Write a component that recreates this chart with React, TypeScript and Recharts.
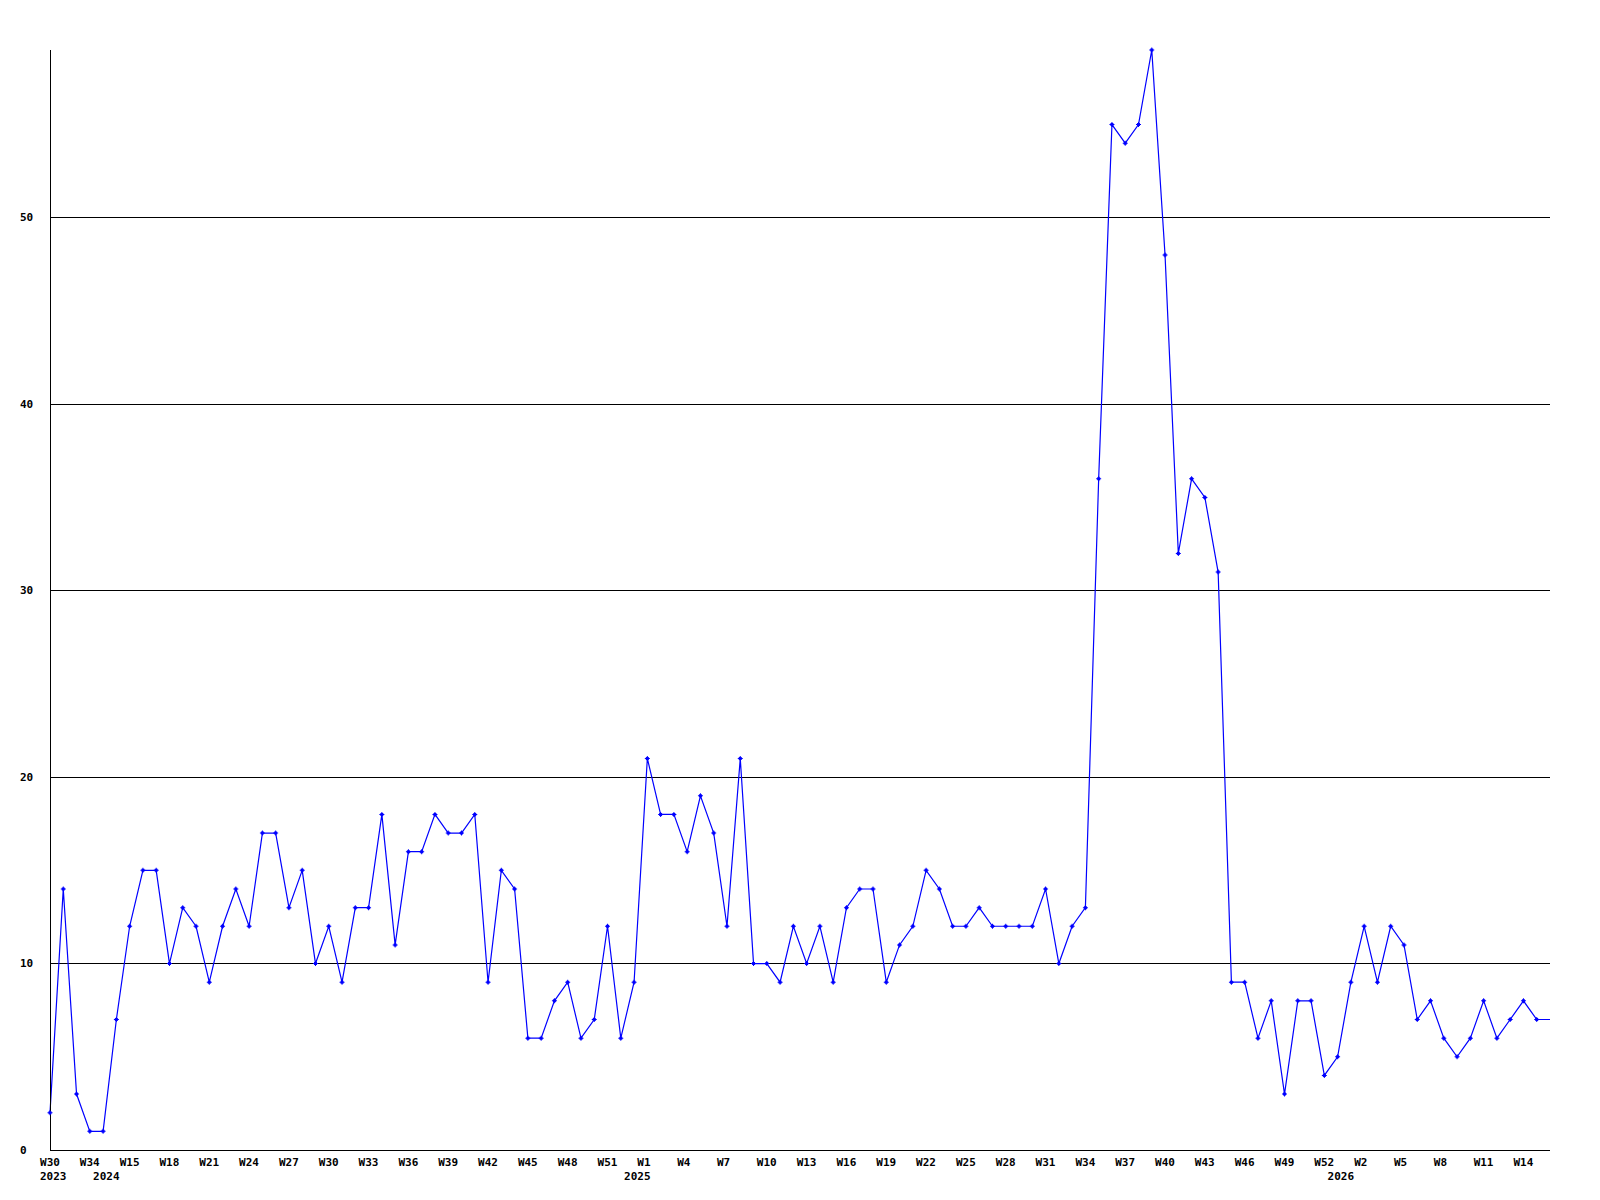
import { LineChart, Line, XAxis, YAxis, ReferenceLine } from 'recharts'

// weeks with data, per year (gaps in 2023/2024)
const weeks2023 = [30, 31, 33, 34]
const weeks2024 = [
  13, 14, 15, 16, 17, 18, 19, 20, 21, 22, 23, 24, 25, 26, 27, 28, 29, 30, 31, 32,
  33, 34, 35, 36, 37, 38, 39, 40, 41, 42, 43, 44, 45, 46, 47, 48, 49, 50, 51, 52,
]
const weeks2025 = [
  0, 1, 2, 3, 4, 5, 6, 7, 8, 9, 10, 11, 12, 13, 14, 15, 16, 17, 18, 19, 20, 21, 22, 23, 24, 25, 26,
  27, 28, 29, 30, 31, 32, 33, 34, 35, 36, 37, 38, 39, 40, 41, 42, 43, 44, 45, 46, 47, 48, 49, 50, 51, 52,
]
const weeks2026 = [0, 1, 2, 3, 4, 5, 6, 7, 8, 9, 10, 11, 12, 13, 14, 15, 16]

const counts = [
  2, 14, 3, 1, 1, 7, 12, 15, 15, 10,
  13, 12, 9, 12, 14, 12, 17, 17, 13, 15,
  10, 12, 9, 13, 13, 18, 11, 16, 16, 18,
  17, 17, 18, 9, 15, 14, 6, 6, 8, 9,
  6, 7, 12, 6, 9, 21, 18, 18, 16, 19,
  17, 12, 21, 10, 10, 9, 12, 10, 12, 9,
  13, 14, 14, 9, 11, 12, 15, 14, 12, 12,
  13, 12, 12, 12, 12, 14, 10, 12, 13, 36,
  55, 54, 55, 59, 48, 32, 36, 35, 31, 9,
  9, 6, 8, 3, 8, 8, 4, 5, 9, 12,
  9, 12, 11, 7, 8, 6, 5, 6, 8, 6,
  7, 8, 7, 7,
]

const yTicks = [0, 10, 20, 30, 40, 50]

const years: [string, number[]][] = [
  ['2023', weeks2023],
  ['2024', weeks2024],
  ['2025', weeks2025],
  ['2026', weeks2026],
]

const data = years
  .flatMap(([year, weeks]) =>
    weeks.map((week, i) => ({ key: `${year}-W${week}`, year, week, firstOfYear: i === 0 }))
  )
  .map((row, i) => ({ ...row, value: counts[i] }))

const FONT = '"DejaVu Sans Mono", monospace'
const BLUE = '#0000ff'

function WeekTick(props: any) {
  const { x, y, index } = props
  const row = data[index]
  if (!row) return <g />
  return (
    <g fontFamily={FONT} fontSize={11} fontWeight="bold" fill="#000">
      {index % 3 === 0 && (
        <text x={x - 10} y={y + 12} textAnchor="start" dominantBaseline="central">
          W{row.week}
        </text>
      )}
      {row.firstOfYear && (
        <text x={x - 10} y={y + 26} textAnchor="start" dominantBaseline="central">
          {row.year}
        </text>
      )}
    </g>
  )
}

function ValueTick(props: any) {
  const { x, y, payload } = props
  return (
    <text
      x={x - 30}
      y={y}
      textAnchor="start"
      dominantBaseline="central"
      fontFamily={FONT}
      fontSize={11}
      fontWeight="bold"
      fill="#000"
    >
      {payload.value}
    </text>
  )
}

function PlusDot(props: any) {
  const { cx, cy, index } = props
  if (index === data.length - 1 || cx == null) return <g key={`d${index}`} />
  const d =
    `M${cx - 2.5},${cy - 0.5}h5v1h-5z` +
    `M${cx - 0.5},${cy - 2.5}h1v5h-1z` +
    `M${cx - 1.5},${cy - 1.5}h3v3h-3z`
  return <path key={`d${index}`} d={d} fill={BLUE} />
}

export default function App() {
  return (
    <div style={{ position: 'absolute', left: 0, top: 0, width: 1600, height: 1200, background: '#fff' }}>
      <LineChart width={1600} height={1200} data={data} margin={{ top: 50, right: 50, bottom: 0, left: 0 }}>
        {yTicks
          .filter((t) => t > 0)
          .map((t) => (
            <ReferenceLine key={t} y={t} stroke="#000" strokeWidth={1} shapeRendering="crispEdges" />
          ))}
        <XAxis
          dataKey="key"
          height={50}
          interval={0}
          tickSize={0}
          tickMargin={0}
          tickLine={false}
          axisLine={{ stroke: '#000', shapeRendering: 'crispEdges' }}
          tick={<WeekTick />}
        />
        <YAxis
          type="number"
          width={50}
          domain={[0, 59]}
          ticks={yTicks}
          tickSize={0}
          tickMargin={0}
          tickLine={false}
          axisLine={{ stroke: '#000', shapeRendering: 'crispEdges' }}
          tick={<ValueTick />}
        />
        <Line
          type="linear"
          dataKey="value"
          stroke={BLUE}
          strokeWidth={1.2}
          dot={(p: any) => <PlusDot key={`d${p.index}`} {...p} />}
          activeDot={false}
          isAnimationActive={false}
        />
      </LineChart>
    </div>
  )
}
